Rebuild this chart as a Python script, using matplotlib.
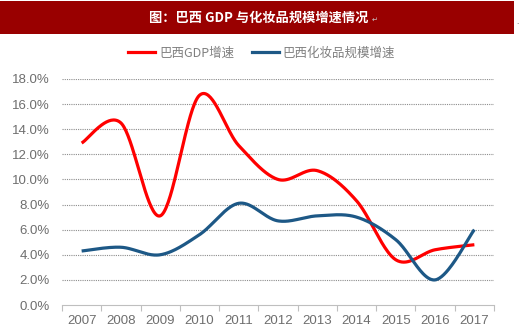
import numpy as np
import matplotlib
matplotlib.use("Agg")
import matplotlib.pyplot as plt
from matplotlib.patches import Rectangle
from matplotlib.lines import Line2D

plt.rcParams['font.family'] = ['Liberation Sans', 'Noto Sans CJK SC', 'DejaVu Sans']

years = ['2007', '2008', '2009', '2010', '2011', '2012', '2013', '2014', '2015', '2016', '2017']
gdp_growth = [12.9, 14.5, 7.1, 16.7, 12.7, 10.0, 10.7, 8.3, 3.6, 4.4, 4.8]
cosmetics_growth = [4.3, 4.6, 4.0, 5.6, 8.1, 6.7, 7.1, 7.0, 5.2, 2.0, 6.0]
yticks = [0, 2, 4, 6, 8, 10, 12, 14, 16, 18]

title = '图：巴西 GDP 与化妆品规模增速情况'
series_names = ['巴西GDP增速', '巴西化妆品规模增速']
colors = ['#ff0000', '#1d5886']


def smooth(xs, ys, n=40):
    """Piecewise cubic Bezier through the points (Catmull-Rom style)."""
    pts = np.column_stack([xs, ys]).astype(float)
    ext = np.vstack([pts[0], pts, pts[-1]])
    out = []
    for i in range(len(pts) - 1):
        p0, p1 = ext[i + 1], ext[i + 2]
        c1 = p0 + (ext[i + 2] - ext[i]) / 6.0
        c2 = p1 - (ext[i + 3] - ext[i + 1]) / 6.0
        t = np.linspace(0, 1, n)[:, None]
        seg = ((1 - t) ** 3) * p0 + 3 * ((1 - t) ** 2) * t * c1 + 3 * (1 - t) * t ** 2 * c2 + t ** 3 * p1
        out.append(seg if i == 0 else seg[1:])
    seg = np.vstack(out)
    return seg[:, 0], seg[:, 1]


fig = plt.figure(figsize=(5.2, 3.29), dpi=100)

# title banner
fig.patches.append(Rectangle((0, 1 - 34 / 329), 514 / 520, 33 / 329,
                             transform=fig.transFigure, facecolor='#990000',
                             edgecolor='none'))
fig.text(0.497, 1 - 18 / 329, title, color='white', fontsize=9.5, fontweight='bold',
         ha='center', va='center', family=['Noto Sans CJK SC', 'DejaVu Sans'])
fig.text(0.714, 1 - 20 / 329, '↵', color='#c8c8c8', fontsize=5, ha='left', va='center',
         family=['DejaVu Sans'])
fig.text(0.996, 1 - 22 / 329, '.', color='#555555', fontsize=6, ha='center', va='center')

ax = fig.add_axes([62 / 520, 1 - 305 / 329, (494 - 62) / 520, (305 - 79) / 329])
x = np.arange(len(years))
for vals, c in zip([gdp_growth, cosmetics_growth], colors):
    sx, sy = smooth(x, vals)
    ax.plot(sx, sy, color=c, lw=2.3, solid_capstyle='butt', zorder=3)

ax.set_xlim(-0.5, len(years) - 0.5)
ax.set_ylim(0, 18)
ax.set_yticks(yticks)
ax.set_yticklabels([f'{v:.1f}%' for v in yticks])
ax.set_xticks(x)
ax.set_xticklabels(years)
ax.set_xticks(np.arange(-0.5, len(years), 1), minor=True)
ax.tick_params(axis='x', which='major', length=0, pad=7, labelsize=9.5, labelcolor='#6e6e6e')
ax.tick_params(axis='x', which='minor', length=4, color='#bfbfbf', width=0.8)
ax.tick_params(axis='y', length=0, pad=9, labelsize=9.5, labelcolor='#6e6e6e')

for v in yticks[1:]:
    ax.axhline(v, color='#8c8c8c', lw=0.8, ls=(0, (1, 1)), zorder=1)

for s in ['top', 'right', 'left']:
    ax.spines[s].set_visible(False)
ax.spines['bottom'].set_color('#bfbfbf')
ax.spines['bottom'].set_linewidth(0.8)

handles = [Line2D([0], [0], color=c, lw=2.3) for c in colors]
fig.legend(handles, series_names, loc='center', bbox_to_anchor=(0.503, 1 - 53 / 329),
           ncol=2, frameon=False, handlelength=2.2, handletextpad=0.3,
           columnspacing=1.4, labelcolor='#808080',
           prop={'family': ['Noto Sans CJK SC', 'DejaVu Sans'], 'size': 9})

fig.savefig('out.png', dpi=100)
